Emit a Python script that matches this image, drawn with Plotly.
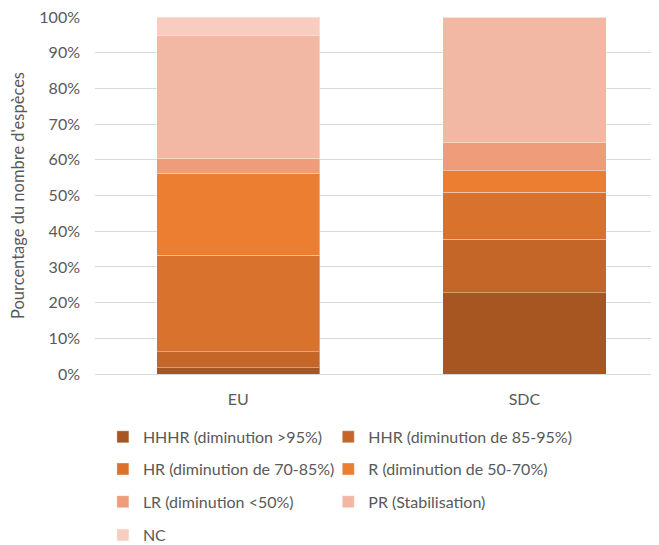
# Stacked 100% bars: species decline categories, EU vs SDC

import plotly.graph_objects as go

categories = ["EU", "SDC"]

series_names = [
    "HHHR (diminution >95%)",
    "HHR (diminution de 85-95%)",
    "HR (diminution de 70-85%)",
    "R (diminution de 50-70%)",
    "LR (diminution <50%)",
    "PR (Stabilisation)",
    "NC",
]

# percentage values per series, [EU, SDC]
hhhr = [1.7, 22.8]
hhr = [4.5, 15.0]
hr = [27.0, 13.1]
r = [23.0, 6.0]
lr = [4.2, 7.9]
pr = [34.4, 35.2]
nc = [5.2, 0.0]

colors = ["#A75622", "#C46628", "#D8722D", "#EC7E32", "#EE9C7A", "#F3B8A4", "#F8CDC0"]

values = [hhhr, hhr, hr, r, lr, pr, nc]

# one small legend per entry, two columns (container coordinates)
legend_pos = [
    (0.144, 0.213), (0.486, 0.213),
    (0.144, 0.154), (0.486, 0.154),
    (0.144, 0.094), (0.486, 0.094),
    (0.144, 0.033),
]
legend_ids = ["legend"] + ["legend%d" % i for i in range(2, 8)]

fig = go.Figure()
for name, vals, col, leg in zip(series_names, values, colors, legend_ids):
    fig.add_trace(go.Bar(
        x=categories,
        y=vals,
        name=name,
        marker=dict(color=col, line=dict(color="rgba(255,255,255,0.35)", width=1)),
        width=0.57,
        legend=leg,
        showlegend=True,
    ))

font_main = dict(family="Lato, Open Sans, sans-serif", size=16, color="#595959")

legends = {}
for leg, (lx, ly) in zip(legend_ids, legend_pos):
    legends[leg] = dict(
        orientation="h",
        xref="container",
        yref="container",
        x=lx,
        xanchor="left",
        y=ly,
        yanchor="middle",
        font=font_main,
        bgcolor="rgba(0,0,0,0)",
        itemclick=False,
    )

fig.update_layout(
    barmode="stack",
    showlegend=True,
    width=659,
    height=545,
    margin=dict(l=87, r=8, t=9, b=179),
    plot_bgcolor="white",
    paper_bgcolor="white",
    font=font_main,
    xaxis=dict(
        range=[-0.5, 1.47],
        showgrid=False,
        showline=False,
        ticks="",
        ticklabelstandoff=14,
        automargin=False,
        tickfont=dict(size=16, color="#595959"),
    ),
    yaxis=dict(
        range=[0, 100],
        dtick=10,
        ticksuffix="%",
        showgrid=True,
        gridcolor="#D9D9D9",
        gridwidth=1,
        zeroline=True,
        zerolinecolor="#D9D9D9",
        zerolinewidth=1,
        automargin=False,
        ticklabelstandoff=14,
        ticklabeloverflow="allow",
        tickfont=dict(size=16, color="#595959"),
        title=dict(text="Pourcentage du nombre d'espèces", font=dict(size=16.5, color="#595959"), standoff=16),
    ),
    **legends,
)

fig.write_html("out.html")
